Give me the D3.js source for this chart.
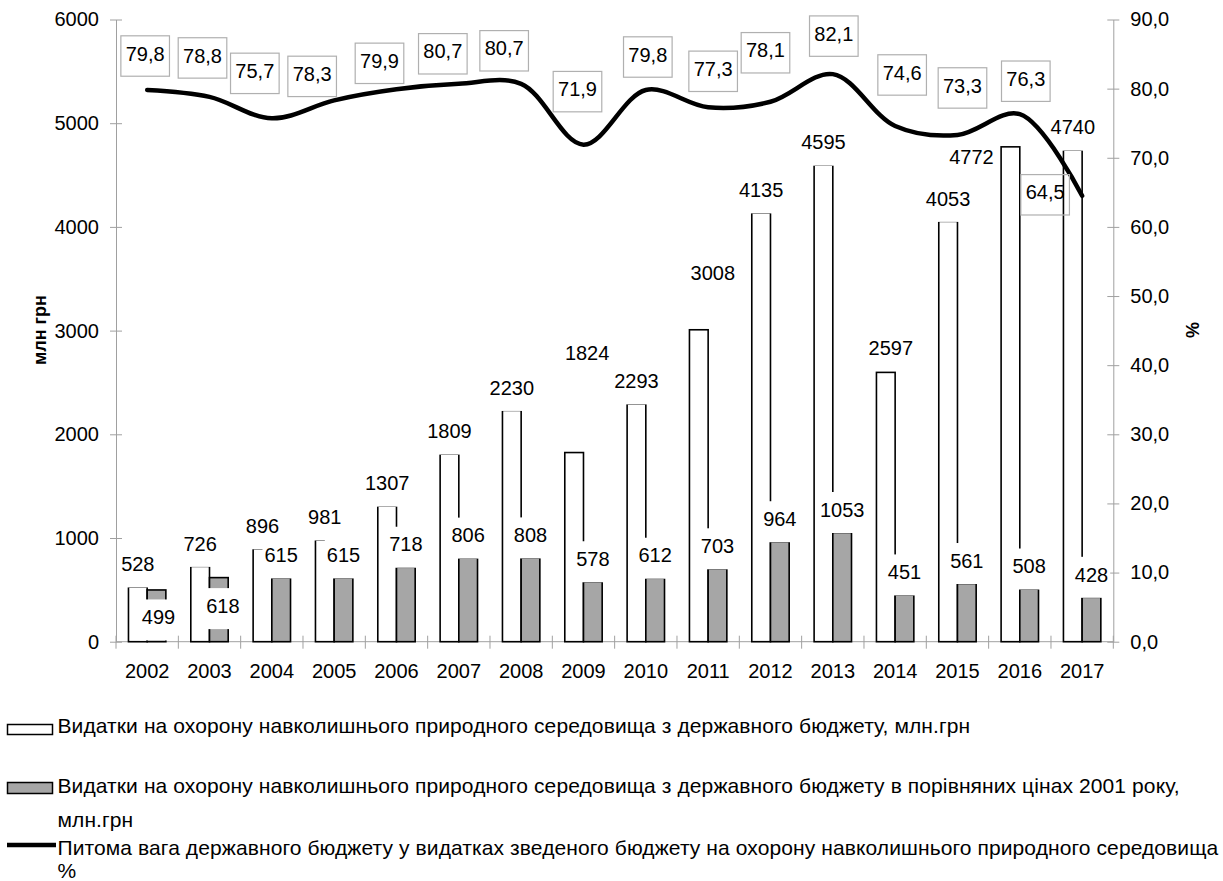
<!DOCTYPE html>
<html><head><meta charset="utf-8">
<script src="https://cdn.jsdelivr.net/npm/d3@7"></script>
<style>body{margin:0;background:#fff}svg{display:block;font-family:"Liberation Sans",Arial,sans-serif}</style>
</head><body><svg id="c" width="1223" height="881"></svg>
<script>
const years = ["2002","2003","2004","2005","2006","2007","2008","2009","2010","2011","2012","2013","2014","2015","2016","2017"];
const spending = [528,726,896,981,1307,1809,2230,1824,2293,3008,4135,4595,2597,4053,4772,4740];
const spending2001 = [499,618,615,615,718,806,808,578,612,703,964,1053,451,561,508,428];
const sharePct = [79.8,78.8,75.7,78.3,79.9,80.7,80.7,71.9,79.8,77.3,78.1,82.1,74.6,73.3,76.3,64.5];
const leftTicks = [0,1000,2000,3000,4000,5000,6000];
const rightTicks = [0,10,20,30,40,50,60,70,80,90];
const legendLabels = [
  ["Видатки на охорону навколишнього природного середовища з державного бюджету, млн.грн"],
  ["Видатки на охорону навколишнього природного середовища з державного бюджету в порівняних цінах 2001 року,","млн.грн"],
  ["Питома вага державного бюджету у видатках зведеного бюджету на охорону навколишнього природного середовища","%"]
];
// manual label placement (layout, not data)
const lineLabelOffsets = [[-2,-34],[-7,-39],[-17,-45],[-22,-24],[-17,-26],[-16,-30],[-17,-33],[-6,-53],[2,-33],[5,-36],[-5,-49],[1,-38],[7,-51],[5,-47],[6,-33],[-37,-1]];
const whiteLabelOffsets = [[0,0],[0,0],[0,0],[0,0],[0,0],[0,0],[0,0],[13,-77],[0,0],[14,-34],[0,0],[0,0],[5,-2],[0,0],[-39,33],[0,0]];
const grayLabelOffsets = [[2,50],[4,51],[0,0],[0,0],[0,0],[0,0],[0,0],[0,0],[0,0],[0,0],[0,0],[0,0],[0,0],[0,0],[0,0],[0,0]];

const svg = d3.select("#c");
const L = 116, R = 1113.3, B = 641.7, T = 19.5;
const x = d3.scaleBand().domain(years).range([L, R]).paddingInner(0).paddingOuter(0);
const xs = d3.scaleBand().domain([0,1]).range([0, x.bandwidth()]).paddingInner(0).paddingOuter(0.667);
const yL = d3.scaleLinear().domain([0,6000]).range([B, T]);
const yR = d3.scaleLinear().domain([0,90]).range([B, T]);
const axisCol = "#a0a0a0";

// axes
const gL = svg.append("g").attr("transform",`translate(${L},0)`)
  .call(d3.axisLeft(yL).tickValues(leftTicks).tickSizeInner(6).tickSizeOuter(0).tickPadding(11).tickFormat(d3.format("d")));
gL.select(".domain").attr("stroke",axisCol);
gL.selectAll(".tick line").attr("stroke",axisCol).attr("x1",6);
gL.selectAll(".tick text").attr("font-size",20).attr("font-family","Liberation Sans").attr("fill","#000");

const gR = svg.append("g").attr("transform",`translate(${R},0)`)
  .call(d3.axisRight(yR).tickValues(rightTicks).tickSizeInner(6).tickSizeOuter(0).tickPadding(11).tickFormat(d => d3.format(".1f")(d).replace(".",",")));
gR.select(".domain").attr("stroke",axisCol);
gR.selectAll(".tick line").attr("stroke",axisCol).attr("x1",-6);
gR.selectAll(".tick text").attr("font-size",20).attr("font-family","Liberation Sans").attr("fill","#000");

const gB = svg.append("g").attr("transform",`translate(0,${B})`)
  .call(d3.axisBottom(x).tickSize(0).tickPadding(0));
gB.select(".domain").attr("stroke",axisCol).attr("d",`M${L},0H${R}`);
gB.selectAll(".tick text").attr("font-size",20).attr("font-family","Liberation Sans").attr("fill","#000").attr("y",36).attr("dy",0);
svg.append("g").selectAll("line").data(years.concat(["end"])).join("line")
  .attr("x1",(d,i)=> i<years.length ? x(d) : R).attr("x2",(d,i)=> i<years.length ? x(d) : R)
  .attr("y1",B-6).attr("y2",B+7).attr("stroke",axisCol);

// bars
const bars = svg.append("g");
bars.selectAll("rect.w").data(spending).join("rect").attr("class","w")
  .attr("x",(d,i)=>x(years[i])+xs(0)).attr("width",xs.bandwidth())
  .attr("y",d=>yL(d)).attr("height",d=>B-yL(d))
  .attr("fill","#fff").attr("stroke","#000").attr("stroke-width",1.6);
bars.selectAll("rect.g").data(spending2001).join("rect").attr("class","g")
  .attr("x",(d,i)=>x(years[i])+xs(1)).attr("width",xs.bandwidth())
  .attr("y",d=>yL(d)).attr("height",d=>B-yL(d))
  .attr("fill","#a6a6a6").attr("stroke","#000").attr("stroke-width",1.6);

// bar labels
function barLabels(vals, sub, offs){
  const g = svg.append("g");
  vals.forEach((v,i)=>{
    const cx = x(years[i]) + xs(sub) + xs.bandwidth()/2 + offs[i][0];
    const cy = yL(v) - 23 + offs[i][1];
    const gg = g.append("g");
    const r = gg.append("rect").attr("fill","#fff");
    const t = gg.append("text").attr("x",cx).attr("y",cy+7.2).attr("text-anchor","middle")
      .attr("font-size",20).attr("fill","#000").text(v);
    const w = t.node().getComputedTextLength()+4;
    r.attr("x",cx-w/2).attr("width",w).attr("y",cy-17.5).attr("height",41);
  });
}
barLabels(spending,0,whiteLabelOffsets);
barLabels(spending2001,1,grayLabelOffsets);

// line
const line = d3.line().x((d,i)=>x(years[i])+x.bandwidth()/2).y(d=>yR(d)).curve(d3.curveCatmullRom.alpha(0.5));
svg.append("path").datum(sharePct).attr("d",line).attr("fill","none").attr("stroke","#000").attr("stroke-width",4.5).attr("stroke-linecap","round");

// line labels
const gl = svg.append("g");
sharePct.forEach((v,i)=>{
  const px = x(years[i]) + x.bandwidth()/2, py = yR(v);
  const bx = px + lineLabelOffsets[i][0], by = py + lineLabelOffsets[i][1];
  gl.append("rect").attr("x",bx-24.3).attr("y",by-20.2).attr("width",48.6).attr("height",40.4)
    .attr("fill","none").attr("stroke","#b0b0b0").attr("stroke-width",1.2);
  gl.append("text").attr("x",bx).attr("y",by-2.5+7.2).attr("text-anchor","middle")
    .attr("font-size",20).attr("fill","#000").text(d3.format(".1f")(v).replace(".",","));
});

// axis titles
svg.append("text").attr("transform","translate(46,330) rotate(-90)").attr("text-anchor","middle")
  .attr("font-size",18).attr("font-weight","bold").text("млн грн");
svg.append("text").attr("transform","translate(1199,330) rotate(-90)").attr("text-anchor","middle")
  .attr("font-size",18).attr("font-weight","bold").text("%");

// legend
const lg = svg.append("g").attr("font-size",21).attr("letter-spacing",0.1);
lg.append("rect").attr("x",7.5).attr("y",724.5).attr("width",45).attr("height",10).attr("fill","#fff").attr("stroke","#000").attr("stroke-width",1.5);
lg.append("rect").attr("x",7.5).attr("y",782.5).attr("width",45).attr("height",11).attr("fill","#a6a6a6").attr("stroke","#000").attr("stroke-width",1.5);
lg.append("line").attr("x1",7).attr("x2",56).attr("y1",845).attr("y2",845).attr("stroke","#000").attr("stroke-width",4.5);
const baselines = [[733],[793,827],[855,878]];
legendLabels.forEach((lines,k)=>{
  lines.forEach((s,j)=>{
    lg.append("text").attr("x",57.5).attr("y",baselines[k][j]).attr("fill","#000").text(s);
  });
});
</script></body></html>
